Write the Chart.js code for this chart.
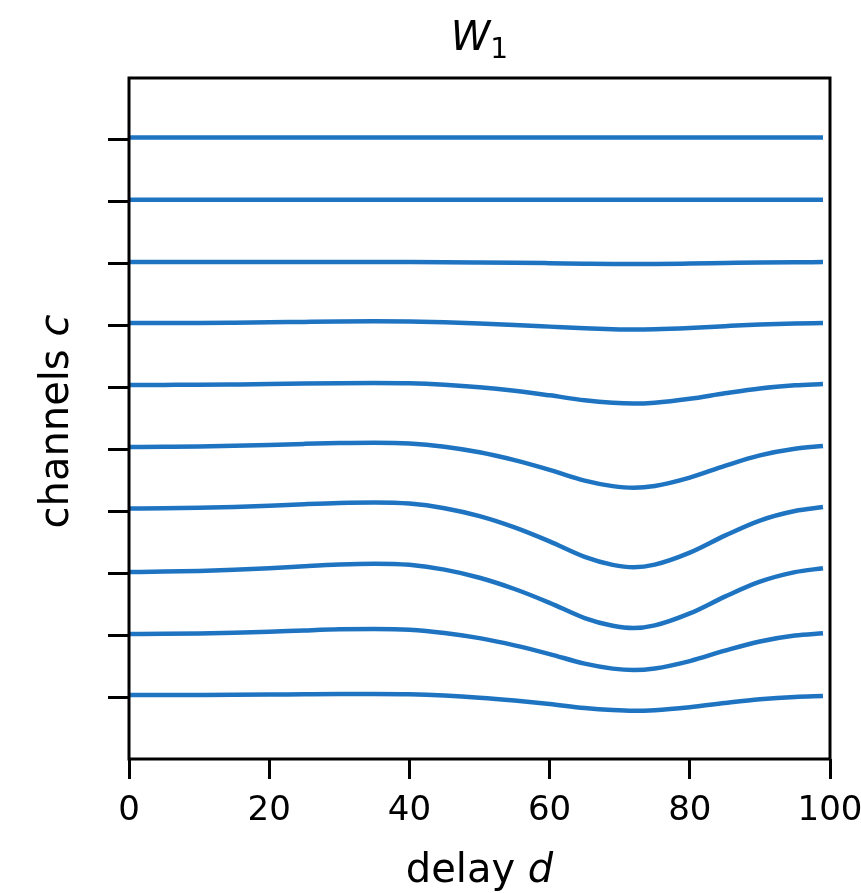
<!DOCTYPE html>
<html>
<head>
<meta charset="utf-8">
<title>W1 channels vs delay</title>
<script src="https://cdn.jsdelivr.net/npm/chart.js@4.4.1/dist/chart.umd.min.js"></script>
<style>
  html, body { margin: 0; padding: 0; background: #fff; }
  #wrap { width: 861px; height: 893px; }
</style>
</head>
<body>
<div id="wrap"><canvas id="chart" width="861" height="893"></canvas></div>
<script>
// delay samples (x) and one trace per channel
const delays = [0, 5, 10, 15, 20, 25, 30, 35, 40, 45, 50, 55, 60, 65, 69, 72, 75, 80, 85, 90, 95, 99];

const ch0 = [-0.04, -0.04, -0.04, -0.04, -0.04, -0.04, -0.04, -0.04, -0.04, -0.04, -0.04, -0.04, -0.04, -0.04, -0.04, -0.04, -0.04, -0.04, -0.04, -0.04, -0.04, -0.04];
const ch1 = [0.965, 0.965, 0.965, 0.965, 0.965, 0.965, 0.965, 0.965, 0.965, 0.965, 0.965, 0.965, 0.966, 0.967, 0.968, 0.968, 0.968, 0.967, 0.966, 0.965, 0.965, 0.965];
const ch2 = [1.973, 1.973, 1.973, 1.973, 1.973, 1.973, 1.973, 1.973, 1.973, 1.975, 1.979, 1.984, 1.991, 1.999, 2.004, 2.005, 2.004, 1.997, 1.989, 1.981, 1.976, 1.974];
const ch3 = [2.958, 2.957, 2.956, 2.952, 2.947, 2.940, 2.934, 2.931, 2.935, 2.947, 2.966, 2.989, 3.016, 3.044, 3.058, 3.063, 3.058, 3.037, 3.008, 2.982, 2.965, 2.959];
const ch4 = [3.959, 3.957, 3.955, 3.950, 3.944, 3.935, 3.929, 3.926, 3.931, 3.955, 3.995, 4.053, 4.126, 4.206, 4.247, 4.259, 4.245, 4.182, 4.093, 4.014, 3.964, 3.943];
const ch5 = [4.961, 4.957, 4.952, 4.942, 4.928, 4.910, 4.896, 4.890, 4.902, 4.955, 5.045, 5.172, 5.329, 5.503, 5.592, 5.619, 5.590, 5.455, 5.265, 5.096, 4.989, 4.945];
const ch6 = [5.954, 5.949, 5.941, 5.928, 5.909, 5.884, 5.864, 5.856, 5.874, 5.949, 6.077, 6.259, 6.485, 6.735, 6.864, 6.902, 6.860, 6.666, 6.392, 6.148, 5.994, 5.931];
const ch7 = [6.980, 6.973, 6.962, 6.944, 6.918, 6.885, 6.858, 6.846, 6.864, 6.941, 7.072, 7.254, 7.477, 7.723, 7.848, 7.885, 7.842, 7.649, 7.378, 7.136, 6.982, 6.918];
const ch8 = [7.982, 7.978, 7.972, 7.962, 7.945, 7.924, 7.906, 7.900, 7.912, 7.964, 8.048, 8.164, 8.305, 8.460, 8.540, 8.563, 8.537, 8.418, 8.250, 8.101, 8.006, 7.968];
const ch9 = [8.968, 8.967, 8.966, 8.964, 8.960, 8.955, 8.951, 8.950, 8.955, 8.975, 9.009, 9.056, 9.113, 9.177, 9.210, 9.221, 9.211, 9.163, 9.096, 9.036, 8.998, 8.984];

const channels = [ch0, ch1, ch2, ch3, ch4, ch5, ch6, ch7, ch8, ch9];

const xTickValues = [0, 20, 40, 60, 80, 100];
const xTickLabels = ['0', '20', '40', '60', '80', '100'];
const yTickValues = [0, 1, 2, 3, 4, 5, 6, 7, 8, 9];

const LINE_COLOR = '#1f74c2';
const FONT = "'DejaVu Sans', sans-serif";

// frame + all text (title and axis labels need mixed italic, which Chart.js titles can't do)
const decorations = {
  id: 'decorations',
  afterDraw(chart) {
    const ctx = chart.ctx;
    const area = chart.chartArea;
    const xs = chart.scales.x;

    ctx.save();
    ctx.strokeStyle = '#000';
    ctx.lineWidth = 3;
    ctx.strokeRect(area.left, area.top, area.right - area.left, area.bottom - area.top);

    ctx.fillStyle = '#000';
    ctx.textBaseline = 'alphabetic';

    // x tick labels
    ctx.font = '34px ' + FONT;
    ctx.textAlign = 'center';
    xTickValues.forEach((v, i) => {
      ctx.fillText(xTickLabels[i], xs.getPixelForValue(v), 820);
    });

    const cx = (area.left + area.right) / 2;
    const cy = (area.top + area.bottom) / 2;

    // title: W with subscript 1
    ctx.textAlign = 'left';
    ctx.font = 'italic 40px ' + FONT;
    const wW = ctx.measureText('W').width;
    ctx.font = '28px ' + FONT;
    const w1 = ctx.measureText('1').width;
    const tx = cx - (wW + w1) / 2;
    ctx.font = 'italic 40px ' + FONT;
    ctx.fillText('W', tx, 50);
    ctx.font = '28px ' + FONT;
    ctx.fillText('1', tx + wW, 58);

    // x axis label: "delay d"
    ctx.font = '40px ' + FONT;
    const dl = ctx.measureText('delay ').width;
    ctx.font = 'italic 40px ' + FONT;
    const dd = ctx.measureText('d').width;
    let lx = cx - (dl + dd) / 2;
    ctx.font = '40px ' + FONT;
    ctx.fillText('delay ', lx, 882);
    ctx.font = 'italic 40px ' + FONT;
    ctx.fillText('d', lx + dl, 882);

    // y axis label: "channels c", rotated
    ctx.translate(68, cy + 3);
    ctx.rotate(-Math.PI / 2);
    ctx.font = '40px ' + FONT;
    const cl = ctx.measureText('channels ').width;
    ctx.font = 'italic 40px ' + FONT;
    const cc = ctx.measureText('c').width;
    lx = -(cl + cc) / 2;
    ctx.font = '40px ' + FONT;
    ctx.fillText('channels ', lx, 0);
    ctx.font = 'italic 40px ' + FONT;
    ctx.fillText('c', lx + cl, 0);
    ctx.restore();
  }
};

const datasets = channels.map((vals, i) => ({
  label: 'c' + i,
  data: delays.map((d, j) => ({ x: d, y: vals[j] })),
  borderColor: LINE_COLOR,
  borderWidth: 4.5,
  pointRadius: 0,
  fill: false,
  cubicInterpolationMode: 'monotone'
}));

new Chart(document.getElementById('chart'), {
  type: 'line',
  data: { datasets },
  options: {
    responsive: false,
    animation: false,
    devicePixelRatio: 1,
    layout: { padding: { left: 0, right: 31, top: 78, bottom: 0 } },
    plugins: {
      legend: { display: false },
      tooltip: { enabled: false },
      title: { display: false }
    },
    scales: {
      x: {
        type: 'linear',
        min: 0,
        max: 100,
        border: { display: false },
        grid: { drawOnChartArea: false, drawTicks: true, tickLength: 20, tickColor: '#000', tickWidth: 3 },
        ticks: { display: false },
        afterBuildTicks: s => { s.ticks = xTickValues.map(v => ({ value: v })); },
        afterFit: s => { s.height = 134; }
      },
      y: {
        type: 'linear',
        reverse: true,
        min: -1,
        max: 10,
        border: { display: false },
        grid: { drawOnChartArea: false, drawTicks: true, tickLength: 21, tickColor: '#000', tickWidth: 3 },
        ticks: { display: false },
        afterBuildTicks: s => { s.ticks = yTickValues.map(v => ({ value: v })); },
        afterFit: s => { s.width = 129; }
      }
    }
  },
  plugins: [decorations]
});
</script>
</body>
</html>
